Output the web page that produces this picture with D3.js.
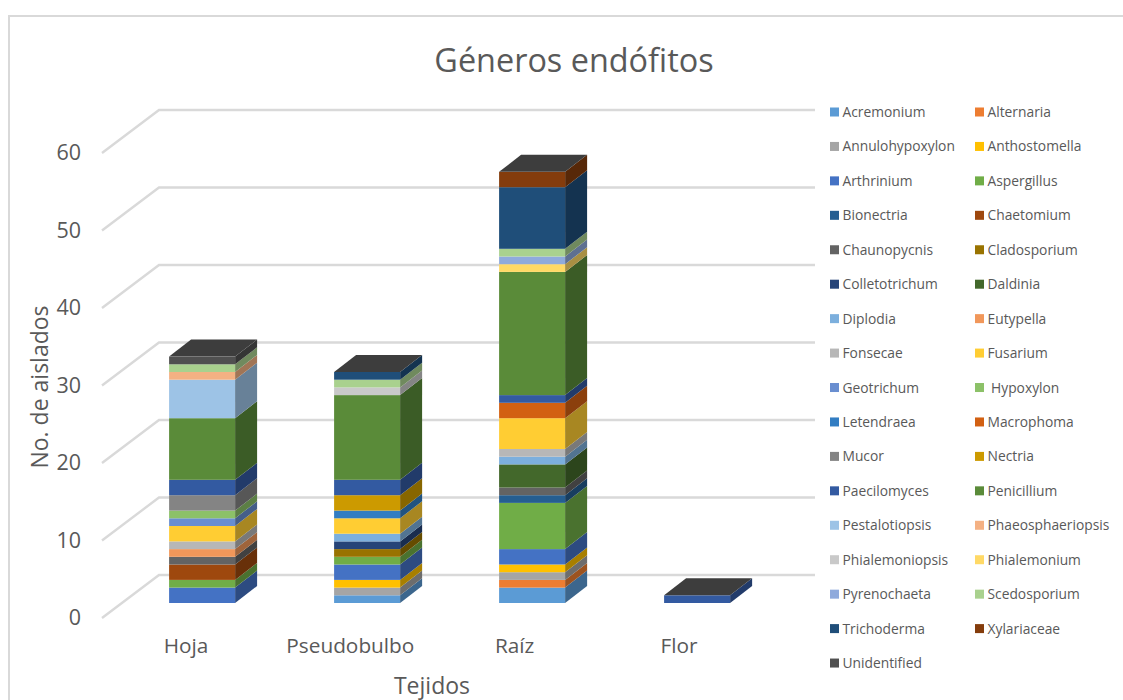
<!DOCTYPE html>
<html lang="es">
<head>
<meta charset="utf-8">
<title>Géneros endófitos</title>
<script src="https://cdn.jsdelivr.net/npm/d3@7/dist/d3.min.js"></script>
<style>
  html, body { margin: 0; padding: 0; background: #fff; }
  svg { display: block; }
  text { font-family: "Open Sans", sans-serif; fill: #595959; }
</style>
</head>
<body>
<svg id="chart" width="1123" height="700"></svg>
<script>
const tissues = ["Hoja", "Pseudobulbo", "Raíz", "Flor"];
const genera = ["Acremonium", "Alternaria", "Annulohypoxylon", "Anthostomella", "Arthrinium", "Aspergillus",
  "Bionectria", "Chaetomium", "Chaunopycnis", "Cladosporium", "Colletotrichum", "Daldinia", "Diplodia",
  "Eutypella", "Fonsecae", "Fusarium", "Geotrichum", "\u00A0Hypoxylon", "Letendraea", "Macrophoma", "Mucor",
  "Nectria", "Paecilomyces", "Penicillium", "Pestalotiopsis", "Phaeosphaeriopsis", "Phialemoniopsis",
  "Phialemonium", "Pyrenochaeta", "Scedosporium", "Trichoderma", "Xylariaceae", "Unidentified"];
const generaColors = ["#5b9bd5", "#ed7d31", "#a5a5a5", "#ffc000", "#4472c4", "#70ad47",
  "#255e91", "#9e480e", "#636363", "#997300", "#264478", "#43682b", "#7cafdd",
  "#f1975a", "#b7b7b7", "#ffcd33", "#698ed0", "#8cc168", "#327dc2", "#d26012", "#848484",
  "#cc9a00", "#335aa1", "#5a8b39", "#9dc3e6", "#f4b183", "#c9c9c9",
  "#ffd966", "#8faadc", "#a9d18e", "#1f4e79", "#843c0c", "#505050"];

// Isolate counts per genus, in the same order as `genera`
const hoja =        [0,0,0,0,2,1,0,2,1,0,0,0,0,1,1,2,1,1,0,0,2,0,2,8,5,1,0,0,0,1,0,0,1];
const pseudobulbo = [1,0,1,1,2,1,0,0,0,1,1,0,1,0,0,2,0,0,1,0,0,2,2,11,0,0,1,0,0,1,1,0,0];
const raiz =        [2,1,1,1,2,6,1,0,1,0,0,3,1,0,1,4,0,0,0,2,0,0,1,16,0,0,0,1,1,1,8,2,0];
const flor =        [0,0,0,0,0,0,0,0,0,0,0,0,0,0,0,0,0,0,0,0,0,0,1,0,0,0,0,0,0,0,0,0,0];
const tissueCounts = [hoja, pseudobulbo, raiz, flor];
const yTicks = [0, 10, 20, 30, 40, 50, 60];

const svg = d3.select("#chart");
const GRID = "#d9d9d9";

// Frame around the chart area
svg.append("path")
  .attr("d", d3.line()([[9, 700], [9, 16], [1123, 16]]))
  .attr("fill", "none").attr("stroke", GRID).attr("stroke-width", 2);

// Oblique projection: wall depth and bar depth
const wall = { dx: 57, dy: 43, xStart: 102, xEnd: 762 };
const barDepth = { dx: 22, dy: 17 };

const yFront = d3.scaleLinear().domain([0, 60]).range([618, 153]);
const yBar = d3.scaleLinear().domain([0, 60]).range([603, 141]);
const x = d3.scaleBand().domain(tissues).range([119.6, 779.6]).paddingInner(0.6).paddingOuter(0.3);
const xLabel = d3.scalePoint().domain(tissues).range([186, 679]);

// Gridlines: a diagonal on the side wall, then a horizontal on the back wall
const grid = svg.append("g").attr("fill", "none").attr("stroke", GRID).attr("stroke-width", 2.4);
grid.selectAll("path").data(yTicks).join("path")
  .attr("d", v => d3.line()([
    [wall.xStart, yFront(v)],
    [wall.xStart + wall.dx, yFront(v) - wall.dy],
    [wall.xEnd + wall.dx - 4, yFront(v) - wall.dy]
  ]));

// Stacked columns
const rows = tissues.map((t, i) => {
  const row = { tissue: t };
  genera.forEach((g, j) => { row[g] = tissueCounts[i][j]; });
  return row;
});
const stacked = d3.stack().keys(genera)(rows);

const poly = pts => d3.line()(pts) + "Z";
const bars = svg.append("g");
stacked.forEach((layer, k) => {
  const color = generaColors[k];
  const shade = d3.rgb(color);
  const side = d3.rgb(shade.r * 0.66, shade.g * 0.66, shade.b * 0.66);
  const g = bars.append("g").attr("class", "genus");
  layer.forEach(d => {
    if (d[1] === d[0]) return;
    const t = d.data.tissue;
    const x0 = x(t), x1 = x0 + x.bandwidth();
    const y0 = yBar(d[0]), y1 = yBar(d[1]);
    g.append("rect")
      .attr("x", x0).attr("y", y1)
      .attr("width", x1 - x0).attr("height", y0 - y1)
      .attr("fill", color);
    g.append("path")
      .attr("d", poly([[x1, y0], [x1 + barDepth.dx, y0 - barDepth.dy], [x1 + barDepth.dx, y1 - barDepth.dy], [x1, y1]]))
      .attr("fill", side);
  });
});

// Dark cap on each column
bars.append("g").selectAll("path").data(rows).join("path")
  .attr("d", r => {
    const total = d3.sum(genera, g => r[g]);
    const x0 = x(r.tissue), x1 = x0 + x.bandwidth(), y = yBar(total);
    return poly([[x0, y], [x0 + barDepth.dx, y - barDepth.dy], [x1 + barDepth.dx, y - barDepth.dy], [x1, y]]);
  })
  .attr("fill", "#3d3d3d");

// Value axis labels
const yAxis = svg.append("g")
  .attr("transform", "translate(81,0)")
  .call(d3.axisLeft(yFront).tickValues(yTicks).tickSize(0).tickPadding(0));
yAxis.select(".domain").remove();
yAxis.selectAll("text").style("font-size", "21.5px").style("font-family", '"Open Sans", sans-serif').attr("fill", "#595959");

// Category labels
svg.append("g").selectAll("text").data(tissues).join("text")
  .attr("x", d => xLabel(d)).attr("y", 653)
  .attr("text-anchor", "middle").style("font-size", "20.8px")
  .text(d => d);

// Titles
svg.append("text").attr("x", 574).attr("y", 72).attr("text-anchor", "middle")
  .style("font-size", "32.4px").text("Géneros endófitos");
svg.append("text").attr("x", 432).attr("y", 694).attr("text-anchor", "middle")
  .style("font-size", "23px").text("Tejidos");
svg.append("text").attr("transform", "translate(48,387) rotate(-90)").attr("text-anchor", "middle")
  .style("font-size", "23px").text("No. de aislados");

// Two-column legend
const legend = svg.append("g");
const item = legend.selectAll("g").data(genera).join("g")
  .attr("transform", (d, i) => `translate(${i % 2 ? 975 : 830},${112 + Math.floor(i / 2) * 34.44})`);
item.append("rect").attr("x", 0).attr("y", -4.5).attr("width", 9).attr("height", 9)
  .attr("fill", (d, i) => generaColors[i]);
item.append("text").attr("x", 12.5).attr("y", 5).style("font-size", "13.8px").text(d => d);
</script>
</body>
</html>
